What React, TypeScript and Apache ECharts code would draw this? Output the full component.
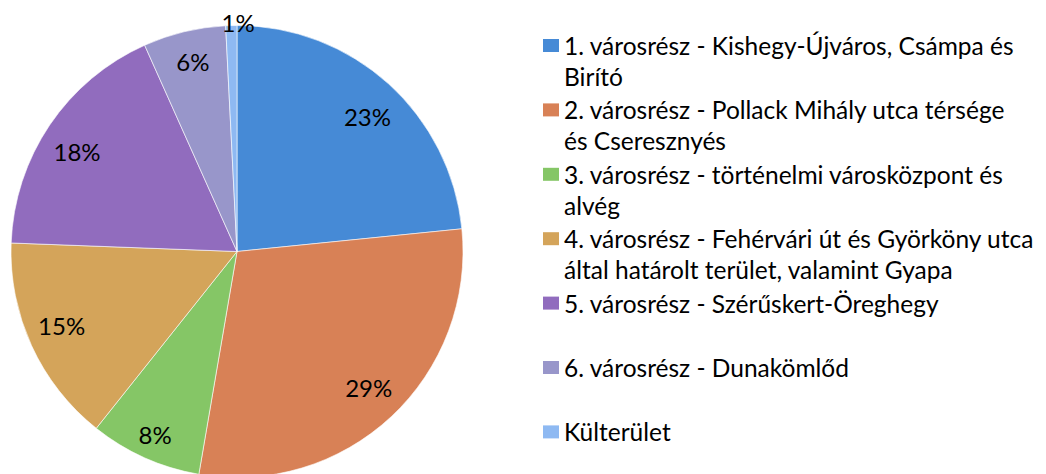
import React, { useEffect, useRef } from "react";
import * as echarts from "echarts";

const categories: string[] = [
  "1. városrész - Kishegy-Újváros, Csámpa és\nBirító",
  "2. városrész - Pollack Mihály utca térsége\nés Cseresznyés",
  "3. városrész - történelmi városközpont és\nalvég",
  "4. városrész - Fehérvári út és Györköny utca\náltal határolt terület, valamint Gyapa",
  "5. városrész - Szérűskert-Öreghegy",
  "6. városrész - Dunakömlőd",
  "Külterület",
];
const shares: number[] = [23.4, 29.3, 8.0, 14.9, 17.7, 5.9, 0.8];
const colors: string[] = [
  "#468AD6",
  "#D88156",
  "#85C666",
  "#D4A45A",
  "#916CBE",
  "#9896CA",
  "#8EB9F2",
];

const FONT = "Lato";
const LINE = 31;
const CX = 237;
const CY = 251.5;
const R = 226;

// fine label nudges (styling only)
const labelNudge: number[][] = [
  [1, 8],
  [0, -5],
  [-3, 7],
  [0, -7],
  [0, 8],
  [1, -2],
  [6, -36],
];

export default function App() {
  const ref = useRef<HTMLDivElement>(null);
  useEffect(() => {
    if (!ref.current) return;
    const chart = echarts.init(ref.current, undefined, { renderer: "svg" });
    const legends = categories.map((name, i) => {
      const multi = name.indexOf("\n") >= 0;
      const iconCenter = 45.5 + 64.4 * i;
      return {
        orient: "vertical",
        left: 543,
        top: iconCenter - (multi ? 1.5 * LINE : LINE / 2),
        padding: 0,
        itemWidth: 16,
        itemHeight: 13,
        icon: "rect",
        selectedMode: false,
        itemStyle: { borderWidth: 0 },
        textStyle: { fontFamily: FONT, fontSize: 24.5, lineHeight: LINE, color: "#000" },
        formatter: (n: string) => (n.indexOf("\n") >= 0 ? "\n" + n : n),
        data: [{ name }],
      };
    });
    chart.setOption({
      animation: false,
      color: colors,
      legend: legends,
      series: [
        {
          type: "pie",
          center: [CX, CY],
          radius: [0, R],
          startAngle: 90,
          clockwise: true,
          silent: true,
          label: { show: false },
          labelLine: { show: false },
          itemStyle: { borderColor: "#ffffff", borderWidth: 0.6 },
          data: categories.map((name, i) => ({ name, value: shares[i] })),
        },
        {
          type: "pie",
          center: [CX, CY],
          radius: [154, R],
          startAngle: 90,
          clockwise: true,
          silent: true,
          itemStyle: { color: "rgba(0,0,0,0)" },
          labelLine: { show: false },
          label: {
            show: true,
            position: "inside",
            fontFamily: FONT,
            fontSize: 24,
            color: "#000",
            formatter: (p: any) => `${Math.round(p.value)}%`,
          },
          data: shares.map((v, i) => ({ value: v, label: { offset: labelNudge[i] } })),
        },
      ],
    });
    return () => chart.dispose();
  }, []);
  return (
    <div
      ref={ref}
      style={{ position: "fixed", left: 0, top: 0, width: 1046, height: 474, background: "#fff" }}
    />
  );
}
